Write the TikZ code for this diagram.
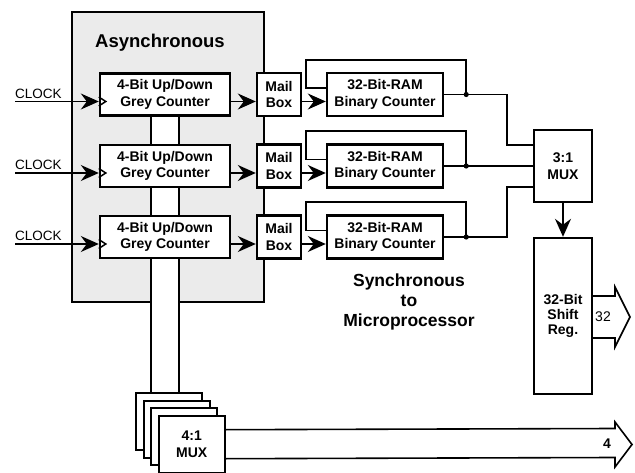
\documentclass[tikz,border=0pt]{standalone}
\usepackage{fontspec}
\setmainfont{Liberation Sans}
\usetikzlibrary{arrows.meta,calc}
\begin{document}
\begin{tikzpicture}[x=1pt,y=-1pt,
  box/.style={draw,line width=2.4pt,fill=white,inner sep=0pt,align=center,
    font=\bfseries\fontsize{14}{16.5}\selectfont},
  conn/.style={line width=1.6pt},
  arr/.style={conn,-{Stealth[length=18pt,width=16pt,inset=6pt]}},
  lbl/.style={font=\bfseries\fontsize{17.5}{20}\selectfont,align=center,inner sep=0pt},
  clk/.style={font=\fontsize{13.5}{15}\selectfont,inner sep=0pt,anchor=base west},
  notch/.style={line width=1.5pt},
  blockarrow/.style={line width=1.6pt,line join=miter},
  bus/.style={line width=1.8pt},
]
\useasboundingbox (0,0) rectangle (635,473);

% asynchronous region
\fill[black!8] (72,12) rectangle (264,302);
\fill[white] (151,110) rectangle (179,302);
\draw[line width=1.6pt] (151,302) -- (72,302) -- (72,12) -- (264,12) -- (264,302) -- (179,302);

\node[lbl,font=\bfseries\fontsize{18.5}{20}\selectfont,anchor=base] (async) at (160,48) {Asynchronous};

% row coordinates
\coordinate (r1) at (0,101.5);
\coordinate (r2) at (0,173);
\coordinate (r3) at (0,244);
\coordinate (bA) at (151,0);
\coordinate (bB) at (179,0);
\coordinate (xb) at (507,0);
\coordinate (m1) at (0,145);
\coordinate (m3) at (0,187);

% grey counters
\node[box,minimum width=130pt,minimum height=42pt] (cnt1) at (165,94.5) {4-Bit Up/Down\\Grey Counter};
\node[box,minimum width=130pt,minimum height=42pt] (cnt2) at (165,166) {4-Bit Up/Down\\Grey Counter};
\node[box,minimum width=130pt,minimum height=42pt] (cnt3) at (165,237) {4-Bit Up/Down\\Grey Counter};

% mail boxes
\node[box,minimum width=44pt,minimum height=43pt] (mb1) at (279,94.5) {Mail\\Box};
\node[box,minimum width=44pt,minimum height=43pt] (mb2) at (279,166) {Mail\\Box};
\node[box,minimum width=44pt,minimum height=43pt] (mb3) at (279,237) {Mail\\Box};

% RAM binary counters
\node[box,minimum width=116pt,minimum height=43pt] (ram1) at (385,94.5) {32-Bit-RAM\\Binary Counter};
\node[box,minimum width=116pt,minimum height=43pt] (ram2) at (385,166) {32-Bit-RAM\\Binary Counter};
\node[box,minimum width=116pt,minimum height=43pt] (ram3) at (385,237) {32-Bit-RAM\\Binary Counter};

% 3:1 mux and shift register
\node[box,minimum width=58pt,minimum height=72pt] (mux3) at (563,166) {3:1\\MUX};
\node[box,minimum width=58pt,minimum height=156pt] (sr) at (563,316)
  {\raisebox{13pt}{\begin{tabular}{@{}c@{}}32-Bit\\[-1.5pt]Shift\\[-1.5pt]Reg.\end{tabular}}};

% 4:1 mux stack
\node[box,minimum width=66pt,minimum height=57pt,anchor=north west] (mxa) at (135,392) {};
\node[box,minimum width=66pt,minimum height=57pt,anchor=north west] (mxb) at (142.5,399.5) {};
\node[box,minimum width=66pt,minimum height=57pt,anchor=north west] (mxc) at (150,407) {};
\node[box,minimum width=66pt,minimum height=57pt,anchor=north west] (mxd) at (157.5,414.5) {4:1\\MUX};

% clock inputs
\coordinate (clk1) at (15,101.5);
\coordinate (clk2) at (15,173);
\coordinate (clk3) at (15,244);
\node[clk] (cl1) at (15,98.5) {CLOCK};
\node[clk] (cl2) at (15,170) {CLOCK};
\node[clk] (cl3) at (15,241) {CLOCK};
\draw[arr] (clk1) -- (cnt1.west|-clk1);
\draw[arr] (clk2) -- (cnt2.west|-clk2);
\draw[arr] (clk3) -- (cnt3.west|-clk3);
\draw[notch] ($(cnt1.west|-r1)+(0,-4.5)$) -- ++(7,4.5) -- ++(-7,4.5);
\draw[notch] ($(cnt2.west|-r2)+(0,-4.5)$) -- ++(7,4.5) -- ++(-7,4.5);
\draw[notch] ($(cnt3.west|-r3)+(0,-4.5)$) -- ++(7,4.5) -- ++(-7,4.5);

% bus between counters and down to 4:1 mux
\draw[bus] (bA|-cnt1.south) -- (bA|-cnt2.north);
\draw[bus] (bB|-cnt1.south) -- (bB|-cnt2.north);
\draw[bus] (bA|-cnt2.south) -- (bA|-cnt3.north);
\draw[bus] (bB|-cnt2.south) -- (bB|-cnt3.north);
\draw[bus] (bA|-cnt3.south) -- (bA|-mxa.north);
\draw[bus] (bB|-cnt3.south) -- (bB|-mxa.north);

% counter -> mailbox -> RAM
\draw[arr] (cnt1.east|-r1) -- (mb1.west|-r1);
\draw[arr] (cnt2.east|-r2) -- (mb2.west|-r2);
\draw[arr] (cnt3.east|-r3) -- (mb3.west|-r3);
\draw[arr] (mb1.east|-r1) -- (ram1.west|-r1);
\draw[arr] (mb2.east|-r2) -- (ram2.west|-r2);
\draw[arr] (mb3.east|-r3) -- (ram3.west|-r3);

% junctions and feedback loops
\coordinate (j1) at ($(ram1.east)+(22,0)$);
\coordinate (j2) at ($(ram2.east)+(22,0)$);
\coordinate (j3) at ($(ram3.east)+(22,0)$);
\draw[conn] (j1) |- ($(ram1.north west)+(-20,-12)$) |- ($(ram1.west)+(0,-6.5)$);
\draw[conn] (j2) |- ($(ram2.north west)+(-20,-12)$) |- ($(ram2.west)+(0,-6.5)$);
\draw[conn] (j3) |- ($(ram3.north west)+(-20,-12)$) |- ($(ram3.west)+(0,-6.5)$);

% RAM outputs to 3:1 mux
\draw[conn] (ram1.east) -- (xb|-ram1.east) -- (xb|-m1) -- (mux3.west|-m1);
\draw[conn] (ram2.east) -- (mux3.west|-ram2.east);
\draw[conn] (ram3.east) -- (xb|-ram3.east) -- (xb|-m3) -- (mux3.west|-m3);
\fill (j1) circle (2.6pt);
\fill (j2) circle (2.6pt);
\fill (j3) circle (2.6pt);

% mux -> shift register
\draw[arr] (mux3.south) -- (sr.north);

% 32-bit output block arrow
\coordinate (t32) at (630,317);
\draw[blockarrow] ($(sr.east)+(0,-20)$) -- (615,296) -- (615,287) -- (t32) -- (615,347) -- (615,338) -- ($(sr.east)+(0,22)$);
\node[font=\fontsize{14}{15}\selectfont,inner sep=0pt] (n32) at (603,317) {32};

% 4-bit output block arrow
\coordinate (t4) at (632,444.5);
\draw[blockarrow] ($(mxd.east)+(0,-14.5)$) -- (615,428.5) -- (615,422) -- (t4) -- (615,467) -- (615,457.5) -- ($(mxd.east)+(0,14.5)$);
\node[font=\bfseries\fontsize{14}{15}\selectfont,inner sep=0pt] (n4) at (607,444) {4};

% synchronous label
\node[lbl] (sync) at (409,302) {Synchronous\\to\\Microprocessor};
\end{tikzpicture}
\end{document}
